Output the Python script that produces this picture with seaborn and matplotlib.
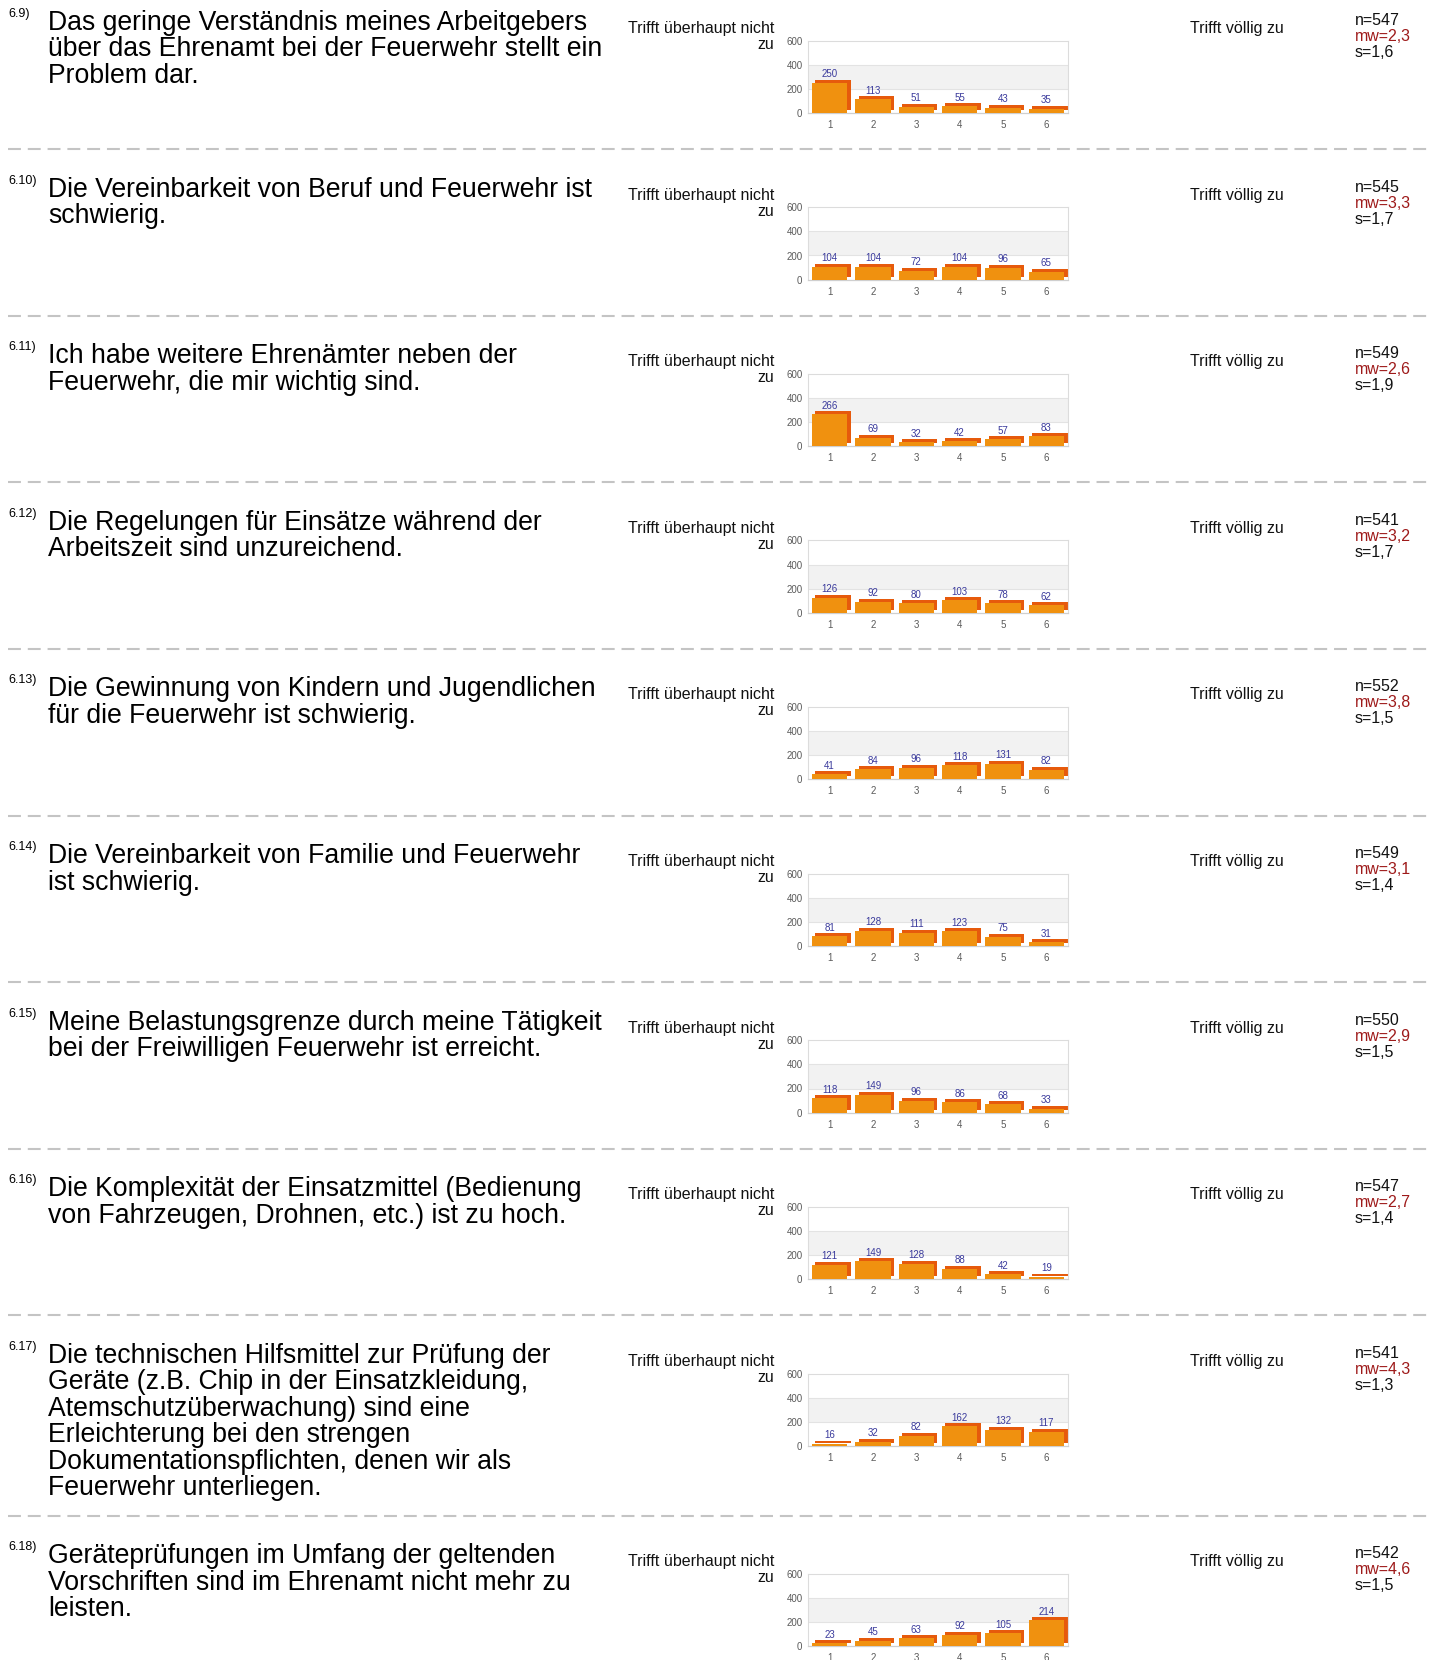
import matplotlib
matplotlib.use("Agg")
import matplotlib.pyplot as plt
import matplotlib.transforms as mtransforms
from matplotlib.lines import Line2D
from matplotlib.patches import Rectangle
import pandas as pd
import seaborn as sns

sns.set_theme(style="white")
plt.rcParams["font.family"] = ["Liberation Sans", "DejaVu Sans"]

# ---------------------------------------------------------------- data
item_ids = ["6.9)", "6.10)", "6.11)", "6.12)", "6.13)",
            "6.14)", "6.15)", "6.16)", "6.17)", "6.18)"]

questions = [
    "Das geringe Verständnis meines Arbeitgebers\nüber das Ehrenamt bei der Feuerwehr stellt ein\nProblem dar.",
    "Die Vereinbarkeit von Beruf und Feuerwehr ist\nschwierig.",
    "Ich habe weitere Ehrenämter neben der\nFeuerwehr, die mir wichtig sind.",
    "Die Regelungen für Einsätze während der\nArbeitszeit sind unzureichend.",
    "Die Gewinnung von Kindern und Jugendlichen\nfür die Feuerwehr ist schwierig.",
    "Die Vereinbarkeit von Familie und Feuerwehr\nist schwierig.",
    "Meine Belastungsgrenze durch meine Tätigkeit\nbei der Freiwilligen Feuerwehr ist erreicht.",
    "Die Komplexität der Einsatzmittel (Bedienung\nvon Fahrzeugen, Drohnen, etc.) ist zu hoch.",
    "Die technischen Hilfsmittel zur Prüfung der\nGeräte (z.B. Chip in der Einsatzkleidung,\nAtemschutzüberwachung) sind eine\nErleichterung bei den strengen\nDokumentationspflichten, denen wir als\nFeuerwehr unterliegen.",
    "Geräteprüfungen im Umfang der geltenden\nVorschriften sind im Ehrenamt nicht mehr zu\nleisten.",
]

scale_points = ["1", "2", "3", "4", "5", "6"]

counts_6_9 = [250, 113, 51, 55, 43, 35]
counts_6_10 = [104, 104, 72, 104, 96, 65]
counts_6_11 = [266, 69, 32, 42, 57, 83]
counts_6_12 = [126, 92, 80, 103, 78, 62]
counts_6_13 = [41, 84, 96, 118, 131, 82]
counts_6_14 = [81, 128, 111, 123, 75, 31]
counts_6_15 = [118, 149, 96, 86, 68, 33]
counts_6_16 = [121, 149, 128, 88, 42, 19]
counts_6_17 = [16, 32, 82, 162, 132, 117]
counts_6_18 = [23, 45, 63, 92, 105, 214]

n_values = [547, 545, 549, 541, 552, 549, 550, 547, 541, 542]
mw_values = ["2,3", "3,3", "2,6", "3,2", "3,8", "3,1", "2,9", "2,7", "4,3", "4,6"]
s_values = ["1,6", "1,7", "1,9", "1,7", "1,5", "1,4", "1,5", "1,4", "1,3", "1,5"]

left_pole = "Trifft überhaupt nicht\nzu"
right_pole = "Trifft völlig zu"

all_counts = [counts_6_9, counts_6_10, counts_6_11, counts_6_12, counts_6_13,
              counts_6_14, counts_6_15, counts_6_16, counts_6_17, counts_6_18]

# ---------------------------------------------------------------- layout
W, H = 1431, 1660
fig = plt.figure(figsize=(W / 100, H / 100), dpi=100)
fig.patch.set_facecolor("white")


def fx(px):
    return px / W


def fy(py):
    return 1 - py / H


BAR_FRONT = "#f0910f"
BAR_SIDE = "#e65a0c"
LABEL_BLUE = "#3a3a9c"
TICK_GREY = "#5a5a5a"
LINE_H = 26.5
DEPTH_X, DEPTH_Y = 3.4 / 100, 3.0 / 100   # extrusion of the bars, inches

y0 = 0.0
for item, question, counts, n, mw, s in zip(item_ids, questions, all_counts,
                                            n_values, mw_values, s_values):
    lines = question.split("\n")

    # item number and question text
    fig.text(fx(8), fy(y0 + 17), item, fontsize=9, va="baseline", color="black")
    for j, line in enumerate(lines):
        fig.text(fx(48), fy(y0 + 30 + j * LINE_H), line, fontsize=19.2,
                 va="baseline", color="black")

    # scale poles
    for j, part in enumerate(left_pole.split("\n")):
        fig.text(fx(774), fy(y0 + 33 + j * 16), part, fontsize=11.5,
                 ha="right", va="baseline", color="#111111")
    fig.text(fx(1190), fy(y0 + 33), right_pole, fontsize=11.5,
             va="baseline", color="#111111")

    # summary statistics
    fig.text(fx(1355), fy(y0 + 25), f"n={n}", fontsize=11.5, va="baseline", color="#111111")
    fig.text(fx(1355), fy(y0 + 41), f"mw={mw}", fontsize=11.5, va="baseline", color="#9e1a1a")
    fig.text(fx(1355), fy(y0 + 57), f"s={s}", fontsize=11.5, va="baseline", color="#111111")

    # bar chart of the answer distribution
    ax = fig.add_axes([fx(808), fy(y0 + 113), 260 / W, 72.3 / H])
    df = pd.DataFrame({"Antwort": scale_points, "Anzahl": counts})
    sns.barplot(data=df, x="Antwort", y="Anzahl", ax=ax, color=BAR_FRONT,
                saturation=1, width=0.82, linewidth=0, zorder=3)

    # darker extruded copy behind each bar gives the top and side faces
    depth = mtransforms.ScaledTranslation(DEPTH_X, DEPTH_Y, fig.dpi_scale_trans)
    for patch in list(ax.patches):
        back = Rectangle(patch.get_xy(), patch.get_width(), patch.get_height(),
                         facecolor=BAR_SIDE, edgecolor="none", lw=0,
                         transform=ax.transData + depth, zorder=2.5)
        ax.add_patch(back)

    ax.bar_label(ax.containers[0], labels=[str(v) for v in counts], padding=2.6,
                 fontsize=7, color=LABEL_BLUE, zorder=4)

    ax.set_ylim(0, 600)
    ax.set_yticks([0, 200, 400, 600])
    ax.axhspan(200, 400, color="#f2f2f2", zorder=0, lw=0)
    for gy in (200, 400):
        ax.axhline(gy, color="#e3e3e3", lw=0.8, zorder=1)
    ax.set_xlabel("")
    ax.set_ylabel("")
    ax.tick_params(axis="both", length=0, labelsize=7, labelcolor=TICK_GREY)
    ax.tick_params(axis="y", pad=4)
    ax.tick_params(axis="x", pad=5)
    for side in ("top", "left", "right"):
        ax.spines[side].set_color("#dcdcdc")
        ax.spines[side].set_linewidth(0.8)
    ax.spines["bottom"].set_color("#cfcfcf")
    ax.spines["bottom"].set_linewidth(0.9)
    ax.set_facecolor("white")

    # dashed separator below the row
    sep = y0 + max(149.2, 30 + (len(lines) - 1) * LINE_H + 20.3)
    if item != item_ids[-1]:
        fig.add_artist(Line2D([fx(8), 1.0], [fy(sep), fy(sep)], transform=fig.transFigure,
                              color="#c4c4c4", lw=1.5, dashes=(6.2, 3.3)))
    y0 = sep + 17.4

fig.savefig("out.png", dpi=100, facecolor="white")
